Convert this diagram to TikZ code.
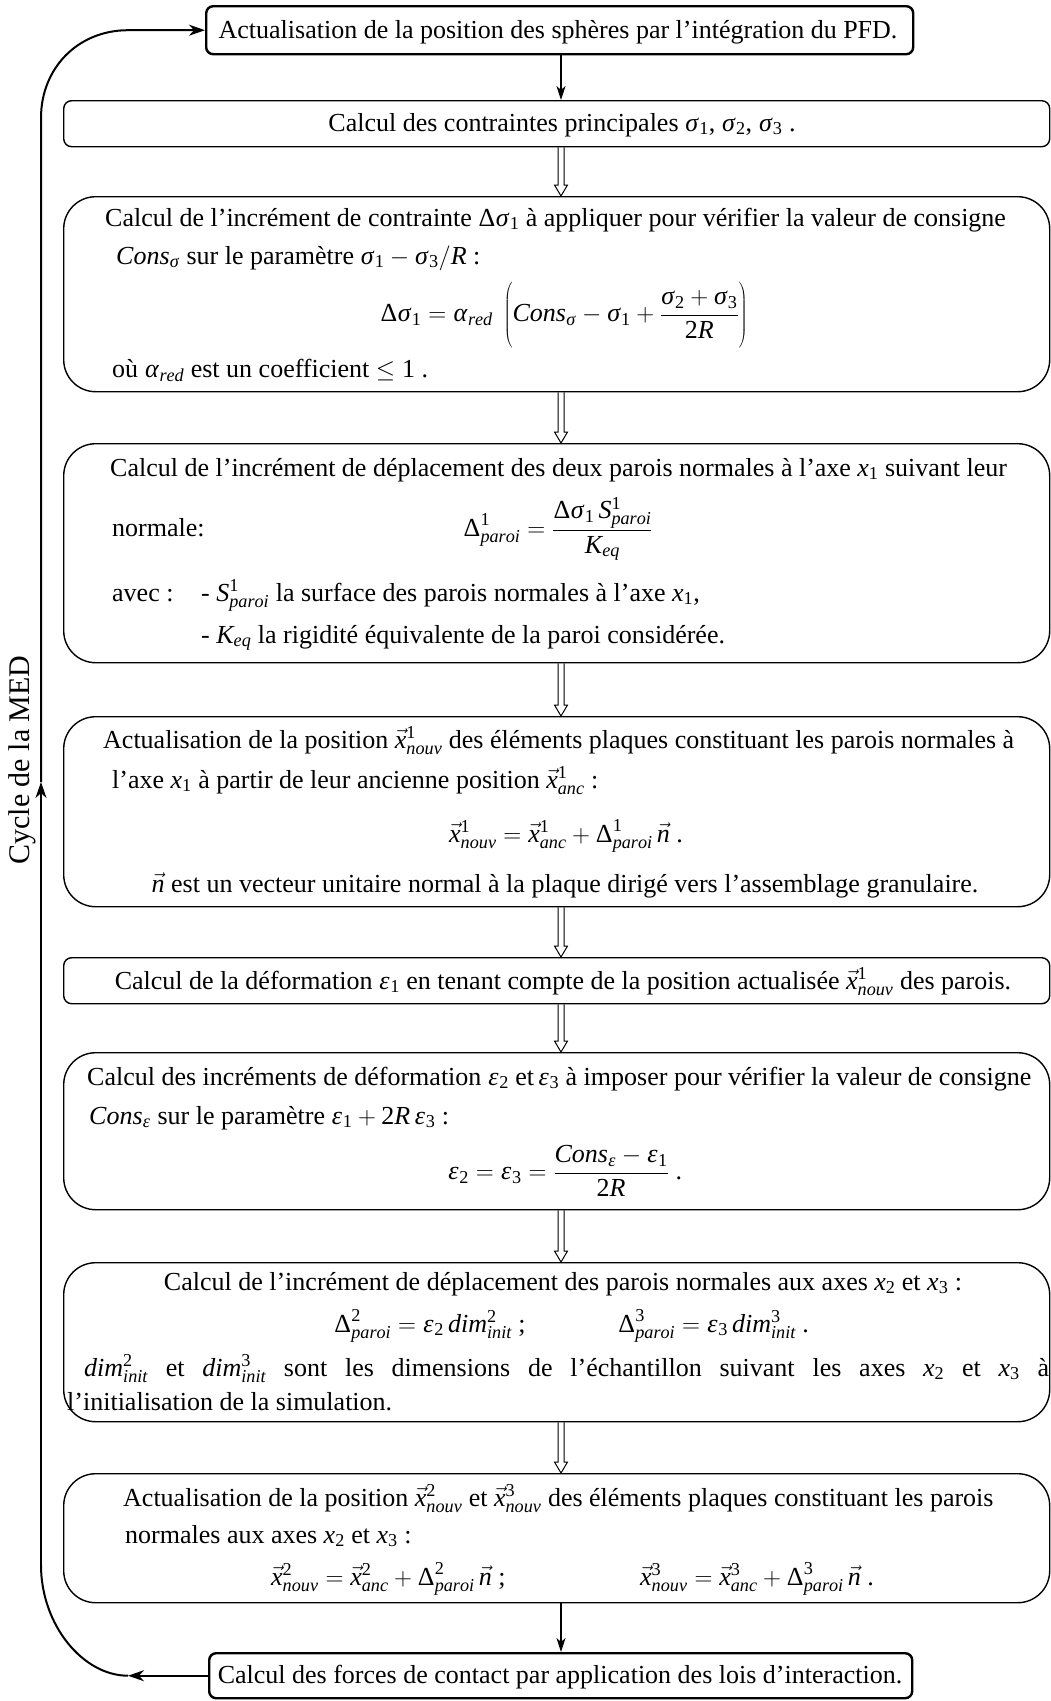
\documentclass[tikz,border=0pt]{standalone}
\usepackage{mathspec}
\setmainfont{Liberation Serif}
\setmathsfont(Digits,Latin,Greek){Liberation Serif}
\setmathrm{Liberation Serif}
\usetikzlibrary{arrows.meta,calc}
\newcommand\hollowarr[2]{\draw[hollow] let \p1=(#1.south -| ax), \p2=(#2.north -| ax) in
  (\x1-3pt,\y1) -- (\x1-3pt,\y2+11pt) -- (\x1-6.5pt,\y2+11pt) -- (\x2,\y2) -- (\x1+6.5pt,\y2+11pt) -- (\x1+3pt,\y2+11pt) -- (\x1+3pt,\y1);}
\begin{document}
\begin{tikzpicture}[x=1pt,y=-1pt,
  every node/.style={inner sep=0pt, font=\fontsize{26}{31}\selectfont},
  box/.style={draw, line width=1.4pt, anchor=north west, minimum width=986pt},
  flatbox/.style={box, rounded corners=8pt},
  roundbox/.style={box, rounded corners=32pt},
  endbox/.style={draw, line width=2.4pt, rounded corners=7pt, anchor=north west},
  txt/.style={anchor=base west},
  ctxt/.style={anchor=base},
  flow/.style={line width=1.2pt, -{Stealth[length=14pt,width=9pt,inset=4pt]}},
  loopline/.style={line width=2pt},
  looparrow/.style={line width=2pt, -{Stealth[length=16pt,width=11pt,inset=5pt]}},
  hollow/.style={line width=1pt}
]
\fill[white] (0,0) rectangle (1051,1701);
\useasboundingbox (0,0) rectangle (1051,1701);
\coordinate (ax) at (561,0);

% boxes
\node[endbox, minimum width=707pt, minimum height=48pt] (b0) at (205,5) {};
\node[flatbox, minimum height=46pt] (b1) at (63,100) {};
\node[roundbox, minimum height=195pt] (b2) at (63,196) {};
\node[roundbox, minimum height=219pt] (b3) at (63,443) {};
\node[roundbox, minimum height=190pt] (b4) at (63,716) {};
\node[flatbox, minimum height=46pt] (b5) at (63,957) {};
\node[roundbox, minimum height=157pt] (b6) at (63,1052) {};
\node[roundbox, minimum height=159pt] (b7) at (63,1262) {};
\node[roundbox, minimum height=129pt] (b8) at (63,1473) {};
\node[endbox, minimum width=703pt, minimum height=45pt] (b9) at (208,1652) {};

% texts
\node[ctxt] (t0) at (558,38) {Actualisation de la position des sphères par l’intégration du PFD.};
\node[ctxt] (t1) at (562,131) {Calcul des contraintes principales $\sigma_1$, $\sigma_2$, $\sigma_3$ .};

\node[txt] (t2a) at (105,226) {Calcul de l’incrément de contrainte $\Delta\sigma_1$ à appliquer pour vérifier la valeur de consigne};
\node[txt] (t2b) at (116,264) {$Cons_\sigma$ sur le paramètre $\sigma_1-\sigma_3/R$ :};
\node (t2c) at (564,315) {$\displaystyle \Delta\sigma_1=\alpha_{red}\;\left(\vrule height 40pt depth 27pt width 0pt Cons_\sigma-\sigma_1+\frac{\sigma_2+\sigma_3}{2R}\right)$};
\node[txt] (t2d) at (112,377) {où $\alpha_{red}$ est un coefficient $\le 1$ .};

\node[txt] (t3a) at (110,476) {Calcul de l’incrément de déplacement des deux parois normales à l’axe $x_1$ suivant leur};
\node[txt] (t3b) at (112,536) {normale:};
\node (t3c) at (558,529) {$\displaystyle \Delta^1_{paroi}=\frac{\Delta\sigma_1\,S^1_{paroi}}{K_{eq}}$};
\node[txt] (t3d) at (112,601) {avec :};
\node[txt] (t3e) at (201,601) {- $S^1_{paroi}$ la surface des parois normales à l’axe $x_1$,};
\node[txt] (t3f) at (201,643) {- $K_{eq}$ la rigidité équivalente de la paroi considérée.};

\node[txt] (t4a) at (103,748) {Actualisation de la position $\vec{x}^1_{nouv}$ des éléments plaques constituant les parois normales à};
\node[txt] (t4b) at (112,788) {l’axe $x_1$ à partir de leur ancienne position $\vec{x}^1_{anc}$ :};
\node[ctxt] (t4c) at (566,842) {$\vec{x}^1_{nouv}=\vec{x}^1_{anc}+\Delta^1_{paroi}\,\vec{n}$ .};
\node[ctxt] (t4d) at (565,892) {$\vec{n}$ est un vecteur unitaire normal à la plaque dirigé vers l’assemblage granulaire.};

\node[ctxt] (t5) at (563,989) {Calcul de la déformation $\epsilon_1$ en tenant compte de la position actualisée $\vec{x}^1_{nouv}$ des parois.};

\node[txt] (t6a) at (87,1085) {Calcul des incréments de déformation $\epsilon_2$ et$\,\epsilon_3$ à imposer pour vérifier la valeur de consigne};
\node[txt] (t6b) at (89,1124) {$Cons_\epsilon$ sur le paramètre $\epsilon_1+2R\,\epsilon_3$ :};
\node (t6c) at (565,1171) {$\displaystyle \epsilon_2=\epsilon_3=\frac{Cons_\epsilon-\epsilon_1}{2R}$ .};

\node[ctxt] (t7a) at (563,1290) {Calcul de l’incrément de déplacement des parois normales aux axes $x_2$ et $x_3$ :};
\node[txt] (t7b) at (334,1332) {$\Delta^2_{paroi}=\epsilon_2\,dim^2_{init}$ ;};
\node[txt] (t7c) at (618,1332) {$\Delta^3_{paroi}=\epsilon_3\,dim^3_{init}$ .};
\node[txt] (t7d) at (84,1376) {\makebox[965pt][s]{$dim^2_{init}$ et $dim^3_{init}$ sont les dimensions de l’échantillon suivant les axes $x_2$ et $x_3$ à}};
\node[txt] (t7e) at (67,1410) {l’initialisation de la simulation.};

\node[txt] (t8a) at (123,1506) {Actualisation de la position $\vec{x}^2_{nouv}$ et $\vec{x}^3_{nouv}$ des éléments plaques constituant les parois};
\node[txt] (t8b) at (125,1543) {normales aux axes $x_2$ et $x_3$ :};
\node[txt] (t8c) at (271,1585) {$\vec{x}^2_{nouv}=\vec{x}^2_{anc}+\Delta^2_{paroi}\,\vec{n}$ ;};
\node[txt] (t8d) at (640,1585) {$\vec{x}^3_{nouv}=\vec{x}^3_{anc}+\Delta^3_{paroi}\,\vec{n}$ .};

\node[ctxt] (t9) at (560,1683) {Calcul des forces de contact par application des lois d’interaction.};

\node[rotate=90, font=\fontsize{30}{36}\selectfont] (cyc) at (22,760) {Cycle de la MED};

% connectors
\draw[flow] (b0.south -| ax) -- (b1.north -| ax);
\hollowarr{b1}{b2}
\hollowarr{b2}{b3}
\hollowarr{b3}{b4}
\hollowarr{b4}{b5}
\hollowarr{b5}{b6}
\hollowarr{b6}{b7}
\hollowarr{b7}{b8}
\draw[flow] (b8.south -| ax) -- (b9.north -| ax);

% loop
\coordinate (lpA) at ($(b9.west)+(-80,0)$);
\coordinate (lpC) at (41,1565);
\coordinate (lpM) at (41,782);
\coordinate (lpD) at (41,118);
\coordinate (lpB) at ($(b0.west)+(-77,0)$);
\draw[looparrow] (b9.west) -- (lpA);
\draw[loopline] (lpA) .. controls +(-45,0) and +(0,60) .. (lpC);
\draw[looparrow] (lpC) -- (lpM);
\draw[looparrow] (lpM) -- (lpD) .. controls +(0,-50) and +(-50,0) .. (lpB) -- (b0.west);
\end{tikzpicture}
\end{document}
